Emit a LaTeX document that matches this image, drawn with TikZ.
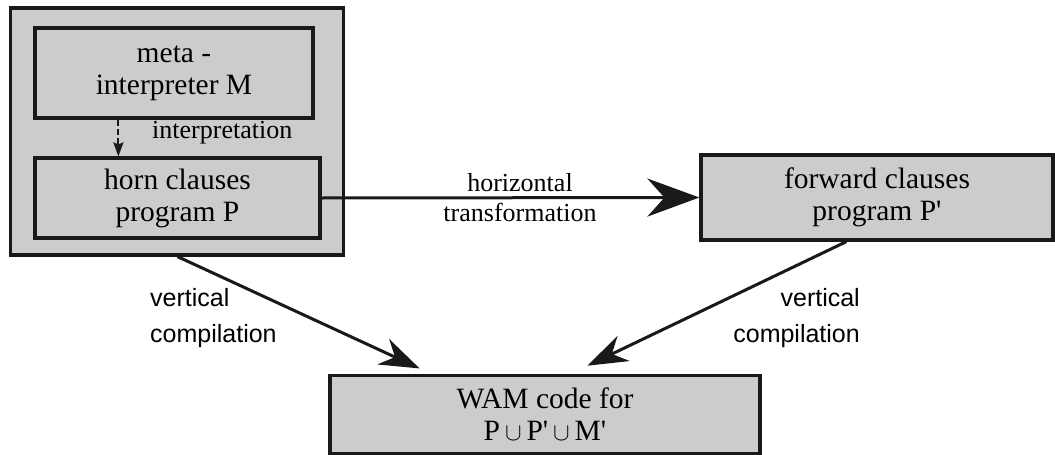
\documentclass[tikz,border=0pt]{standalone}
\usepackage{fontspec}
\setmainfont{Liberation Serif}
\newfontfamily\labsans{Liberation Sans}
\usetikzlibrary{arrows.meta,calc}
\newcommand{\pr}{\textquotesingle}
\begin{document}
\begin{tikzpicture}[x=1pt,y=-1pt,
  box/.style={draw=black!90,line width=3.2pt,fill=black!20,inner sep=0pt,align=center,
    font=\fontsize{29.5}{32}\selectfont},
  lab/.style={font=\fontsize{26}{30}\selectfont,inner sep=0pt},
  slab/.style={font=\labsans\fontsize{25}{36}\selectfont,inner sep=0pt},
  bigarrow/.style={line width=3pt,draw=black!90,-{Stealth[length=52pt,width=38pt,inset=17pt]}},
  diagarrow/.style={line width=3pt,draw=black!90,-{Stealth[length=40pt,width=28pt,inset=13pt]}},
  interarrow/.style={line width=2pt,draw=black!90,dash pattern=on 6pt off 3pt,-{Stealth[length=14pt,width=10pt,inset=2pt]}}
]
\useasboundingbox (0,0) rectangle (1055,455);
\node[box,minimum width=333pt,minimum height=247pt] (outer) at (177,131.5) {};
\node[box,minimum width=278pt,minimum height=90pt] (meta) at (174,73) {meta -\\interpreter M};
\node[box,minimum width=285pt,minimum height=80pt] (horn) at (177.5,198) {horn clauses\\program P};
\node[box,minimum width=352pt,minimum height=85pt] (fwd) at (877,197.5) {forward clauses\\program P\pr};
\node[box,minimum width=430pt,minimum height=78pt] (wam) at (545,414.5) {WAM code for\\P\,$\cup$\,P\pr\,$\cup$\,M\pr};
\draw[interarrow] ($(meta.south west)+(85,0)$) -- ($(horn.north west)+(85,0)$);
\node[lab,anchor=west] (interp) at (152,133) {interpretation};
\draw[bigarrow] (horn.east) -- (fwd.west);
\node[lab,align=center] (htrans) at (520,198) {horizontal\\transformation};
\draw[diagarrow,shorten >=13pt] (horn.center |- outer.south) -- ($(wam.north west)+(103,0)$);
\draw[diagarrow,shorten >=19pt] ($(fwd.south west)+(147,0)$) -- ($(wam.north west)+(242,0)$);
\node[slab,align=left,anchor=west] (vl) at (150,318) {vertical\\compilation};
\node[slab,align=right,anchor=east] (vr) at (860,318) {vertical\\compilation};
\end{tikzpicture}
\end{document}
